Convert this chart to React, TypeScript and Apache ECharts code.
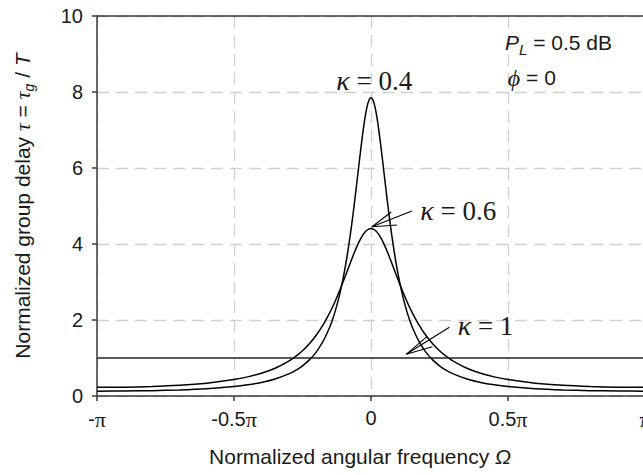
import React, { useEffect, useRef } from 'react';
import * as echarts from 'echarts';

// Normalized angular frequency, in units of pi
const omega = [
  -1, -0.9, -0.8, -0.7, -0.6, -0.5, -0.45, -0.4, -0.35, -0.3, -0.275, -0.25, -0.225, -0.2, -0.175,
  -0.15, -0.14, -0.13, -0.12, -0.11, -0.1, -0.09, -0.08, -0.07, -0.06, -0.05, -0.04, -0.03, -0.02, -0.01,
  0,
  0.01, 0.02, 0.03, 0.04, 0.05, 0.06, 0.07, 0.08, 0.09, 0.1, 0.11, 0.12, 0.13, 0.14, 0.15,
  0.175, 0.2, 0.225, 0.25, 0.275, 0.3, 0.35, 0.4, 0.45, 0.5, 0.6, 0.7, 0.8, 0.9, 1,
];

// Group delay, kappa = 0.4
const kappa04 = [
  0.127, 0.131, 0.141, 0.16, 0.193, 0.251, 0.295, 0.358, 0.447, 0.582, 0.675, 0.795, 0.95, 1.156, 1.436,
  1.824, 2.021, 2.247, 2.509, 2.812, 3.161, 3.562, 4.021, 4.538, 5.108, 5.717, 6.336, 6.919, 7.407, 7.734,
  7.85,
  7.734, 7.407, 6.919, 6.336, 5.717, 5.108, 4.538, 4.021, 3.562, 3.161, 2.812, 2.509, 2.247, 2.021, 1.824,
  1.436, 1.156, 0.95, 0.795, 0.675, 0.582, 0.447, 0.358, 0.295, 0.251, 0.193, 0.16, 0.141, 0.131, 0.127,
];

// Group delay, kappa = 0.6
const kappa06 = [
  0.227, 0.232, 0.25, 0.282, 0.338, 0.432, 0.503, 0.599, 0.731, 0.919, 1.042, 1.192, 1.374, 1.597, 1.87,
  2.199, 2.348, 2.507, 2.676, 2.853, 3.037, 3.226, 3.417, 3.606, 3.788, 3.957, 4.107, 4.233, 4.327, 4.385,
  4.405,
  4.385, 4.327, 4.233, 4.107, 3.957, 3.788, 3.606, 3.417, 3.226, 3.037, 2.853, 2.676, 2.507, 2.348, 2.199,
  1.87, 1.597, 1.374, 1.192, 1.042, 0.919, 0.731, 0.599, 0.503, 0.432, 0.338, 0.282, 0.25, 0.232, 0.227,
];

// Group delay, kappa = 1 (flat)
const kappa1Omega = [-1, 1];
const kappa1 = [1, 1];

const xTickValues = [-1, -0.5, 0, 0.5, 1];
const xTickNumbers = ['-', '-0.5', '0', '0.5', ''];
const xTickHasPi = [true, true, false, true, true];

const SANS = "'Liberation Sans', Arial, Helvetica, sans-serif";
const SERIF = "'Liberation Serif', 'Times New Roman', serif";
const TXT = '#1a1a1a';

export default function App() {
  const ref = useRef<HTMLDivElement>(null);

  useEffect(() => {
    if (!ref.current) return;
    const chart = echarts.init(ref.current, null, { renderer: 'svg' });

    const zip = (xs: number[], ys: number[]) => xs.map((x, i) => [x, ys[i]]);

    const option: any = {
      animation: false,
      backgroundColor: '#fff',
      grid: { left: 97, top: 16, width: 548, height: 380, containLabel: false, outerBoundsMode: 'none' },
      xAxis: [
        {
          type: 'value',
          min: -1,
          max: 1,
          interval: 0.5,
          position: 'bottom',
          axisLine: { show: true, onZero: false, lineStyle: { color: '#3a3a3a', width: 1.5 } },
          axisTick: { show: true, inside: false, length: 5, lineStyle: { color: '#3a3a3a', width: 1.5 } },
          axisLabel: {
            show: true,
            margin: 12,
            showMinLabel: true,
            showMaxLabel: true,
            hideOverlap: false,
            formatter: (v: number) => {
              const i = xTickValues.findIndex((t) => Math.abs(t - v) < 1e-9);
              if (i < 0) return '';
              return xTickHasPi[i] ? `{n|${xTickNumbers[i]}}{p|π}` : `{n|${xTickNumbers[i]}}`;
            },
            rich: {
              n: { fontFamily: SANS, fontSize: 20, color: TXT },
              p: { fontFamily: SERIF, fontSize: 22, color: TXT },
            },
          },
          splitLine: { show: true, lineStyle: { color: '#cfcfcf', width: 1.3, type: [12, 7] } },
          name: '{a|Normalized angular frequency }{i|Ω}',
          nameLocation: 'middle',
          nameGap: 50,
          nameTextStyle: {
            padding: [0, 22, 0, 0],
            rich: {
              a: { fontFamily: SANS, fontSize: 21, color: TXT },
              i: { fontFamily: SANS, fontStyle: 'italic', fontSize: 21, color: TXT },
            },
          },
        },
        {
          type: 'value',
          min: -1,
          max: 1,
          interval: 0.5,
          position: 'top',
          axisLine: { show: true, onZero: false, lineStyle: { color: '#3a3a3a', width: 1.5 } },
          axisTick: { show: false },
          axisLabel: { show: false },
          splitLine: { show: false },
        },
      ],
      yAxis: {
        type: 'value',
        min: 0,
        max: 10,
        interval: 2,
        axisLine: { show: true, onZero: false, lineStyle: { color: '#3a3a3a', width: 1.5 } },
        axisTick: { show: true, inside: false, length: 5, lineStyle: { color: '#3a3a3a', width: 1.5 } },
        axisLabel: { margin: 14, fontFamily: SANS, fontSize: 20, color: TXT },
        splitLine: { show: true, lineStyle: { color: '#cfcfcf', width: 1.3, type: [12, 7] } },
        name: '{a|Normalized group delay }{i|τ}{a| = }{i|τ}{s|g}{a| / }{t|T}',
        nameLocation: 'middle',
        nameRotate: 90,
        nameGap: 61,
        nameTextStyle: {
          rich: {
            a: { fontFamily: SANS, fontSize: 21, color: TXT, lineHeight: 28, verticalAlign: 'middle' },
            i: { fontFamily: SERIF, fontStyle: 'italic', fontSize: 22, color: TXT, lineHeight: 28, verticalAlign: 'middle' },
            s: { fontFamily: SANS, fontStyle: 'italic', fontSize: 14, color: TXT, lineHeight: 14, verticalAlign: 'bottom' },
            t: { fontFamily: SANS, fontStyle: 'italic', fontSize: 21, color: TXT, lineHeight: 28, verticalAlign: 'middle' },
          },
        },
      },
      series: [
        {
          name: 'κ = 0.4',
          type: 'line',
          data: zip(omega, kappa04),
          showSymbol: false,
          smooth: 0.3,
          lineStyle: { color: '#000', width: 1.5 },
          z: 3,
        },
        {
          name: 'κ = 0.6',
          type: 'line',
          data: zip(omega, kappa06),
          showSymbol: false,
          smooth: 0.3,
          lineStyle: { color: '#000', width: 1.5 },
          z: 3,
        },
        {
          name: 'κ = 1',
          type: 'line',
          data: zip(kappa1Omega, kappa1),
          showSymbol: false,
          lineStyle: { color: '#222', width: 1.5 },
          z: 3,
        },
      ],
    };

    chart.setOption(option);

    const p = (x: number, y: number) => chart.convertToPixel({ seriesIndex: 0 }, [x, y]) as number[];
    const seg = (a: number[], b: number[]) => {
      const A = p(a[0], a[1]);
      const B = p(b[0], b[1]);
      return {
        type: 'line',
        silent: true,
        z: 10,
        shape: { x1: A[0], y1: A[1], x2: B[0], y2: B[1] },
        style: { stroke: '#000', lineWidth: 1.1 },
      };
    };
    const kappaRich = {
      k: { fontFamily: SERIF, fontStyle: 'italic', fontSize: 28, fill: TXT },
      a: { fontFamily: SERIF, fontSize: 27, fill: TXT },
    };
    const label = (x: number, y: number, text: string, align: string, rich: any) => {
      const P = p(x, y);
      return {
        type: 'text',
        silent: true,
        z: 10,
        x: P[0],
        y: P[1],
        style: { text, align, verticalAlign: 'middle', fill: TXT, rich },
      };
    };

    const graphic = [
      label(0.012, 8.29, '{k|κ}{a| = 0.4}', 'center', kappaRich),
      label(0.18, 4.876, '{k|κ}{a| = 0.6}', 'left', kappaRich),
      label(0.3164, 1.855, '{k|κ}{a| = 1}', 'left', kappaRich),
      // arrow to kappa = 0.6
      seg([0.0036, 4.455], [0.1493, 4.868]),
      seg([0.0036, 4.455], [0.0739, 4.842]),
      seg([0.0036, 4.455], [0.0946, 4.5]),
      // arrow to kappa = 1
      seg([0.1285, 1.097], [0.2861, 1.808]),
      seg([0.1285, 1.097], [0.2039, 1.561]),
      seg([0.1285, 1.097], [0.2242, 1.297]),
      label(0.4891, 9.3, '{i|P}{s|L}{a| = 0.5 dB}', 'left', {
        i: { fontFamily: SANS, fontStyle: 'italic', fontSize: 21, fill: TXT, lineHeight: 28, verticalAlign: 'middle' },
        s: { fontFamily: SANS, fontStyle: 'italic', fontSize: 15, fill: TXT, lineHeight: 15, verticalAlign: 'bottom' },
        a: { fontFamily: SANS, fontSize: 21, fill: TXT, lineHeight: 28, verticalAlign: 'middle' },
      }),
      label(0.4995, 8.37, '{i|ϕ}{a| = 0}', 'left', {
        i: { fontFamily: SERIF, fontStyle: 'italic', fontSize: 24, fill: TXT, lineHeight: 28, verticalAlign: 'middle' },
        a: { fontFamily: SANS, fontSize: 21, fill: TXT, lineHeight: 28, verticalAlign: 'middle' },
      }),
    ];

    chart.setOption({ graphic });

    return () => {
      chart.dispose();
    };
  }, []);

  return (
    <div
      ref={ref}
      style={{ position: 'fixed', left: 0, top: 0, width: 643, height: 475, background: '#fff' }}
    />
  );
}
